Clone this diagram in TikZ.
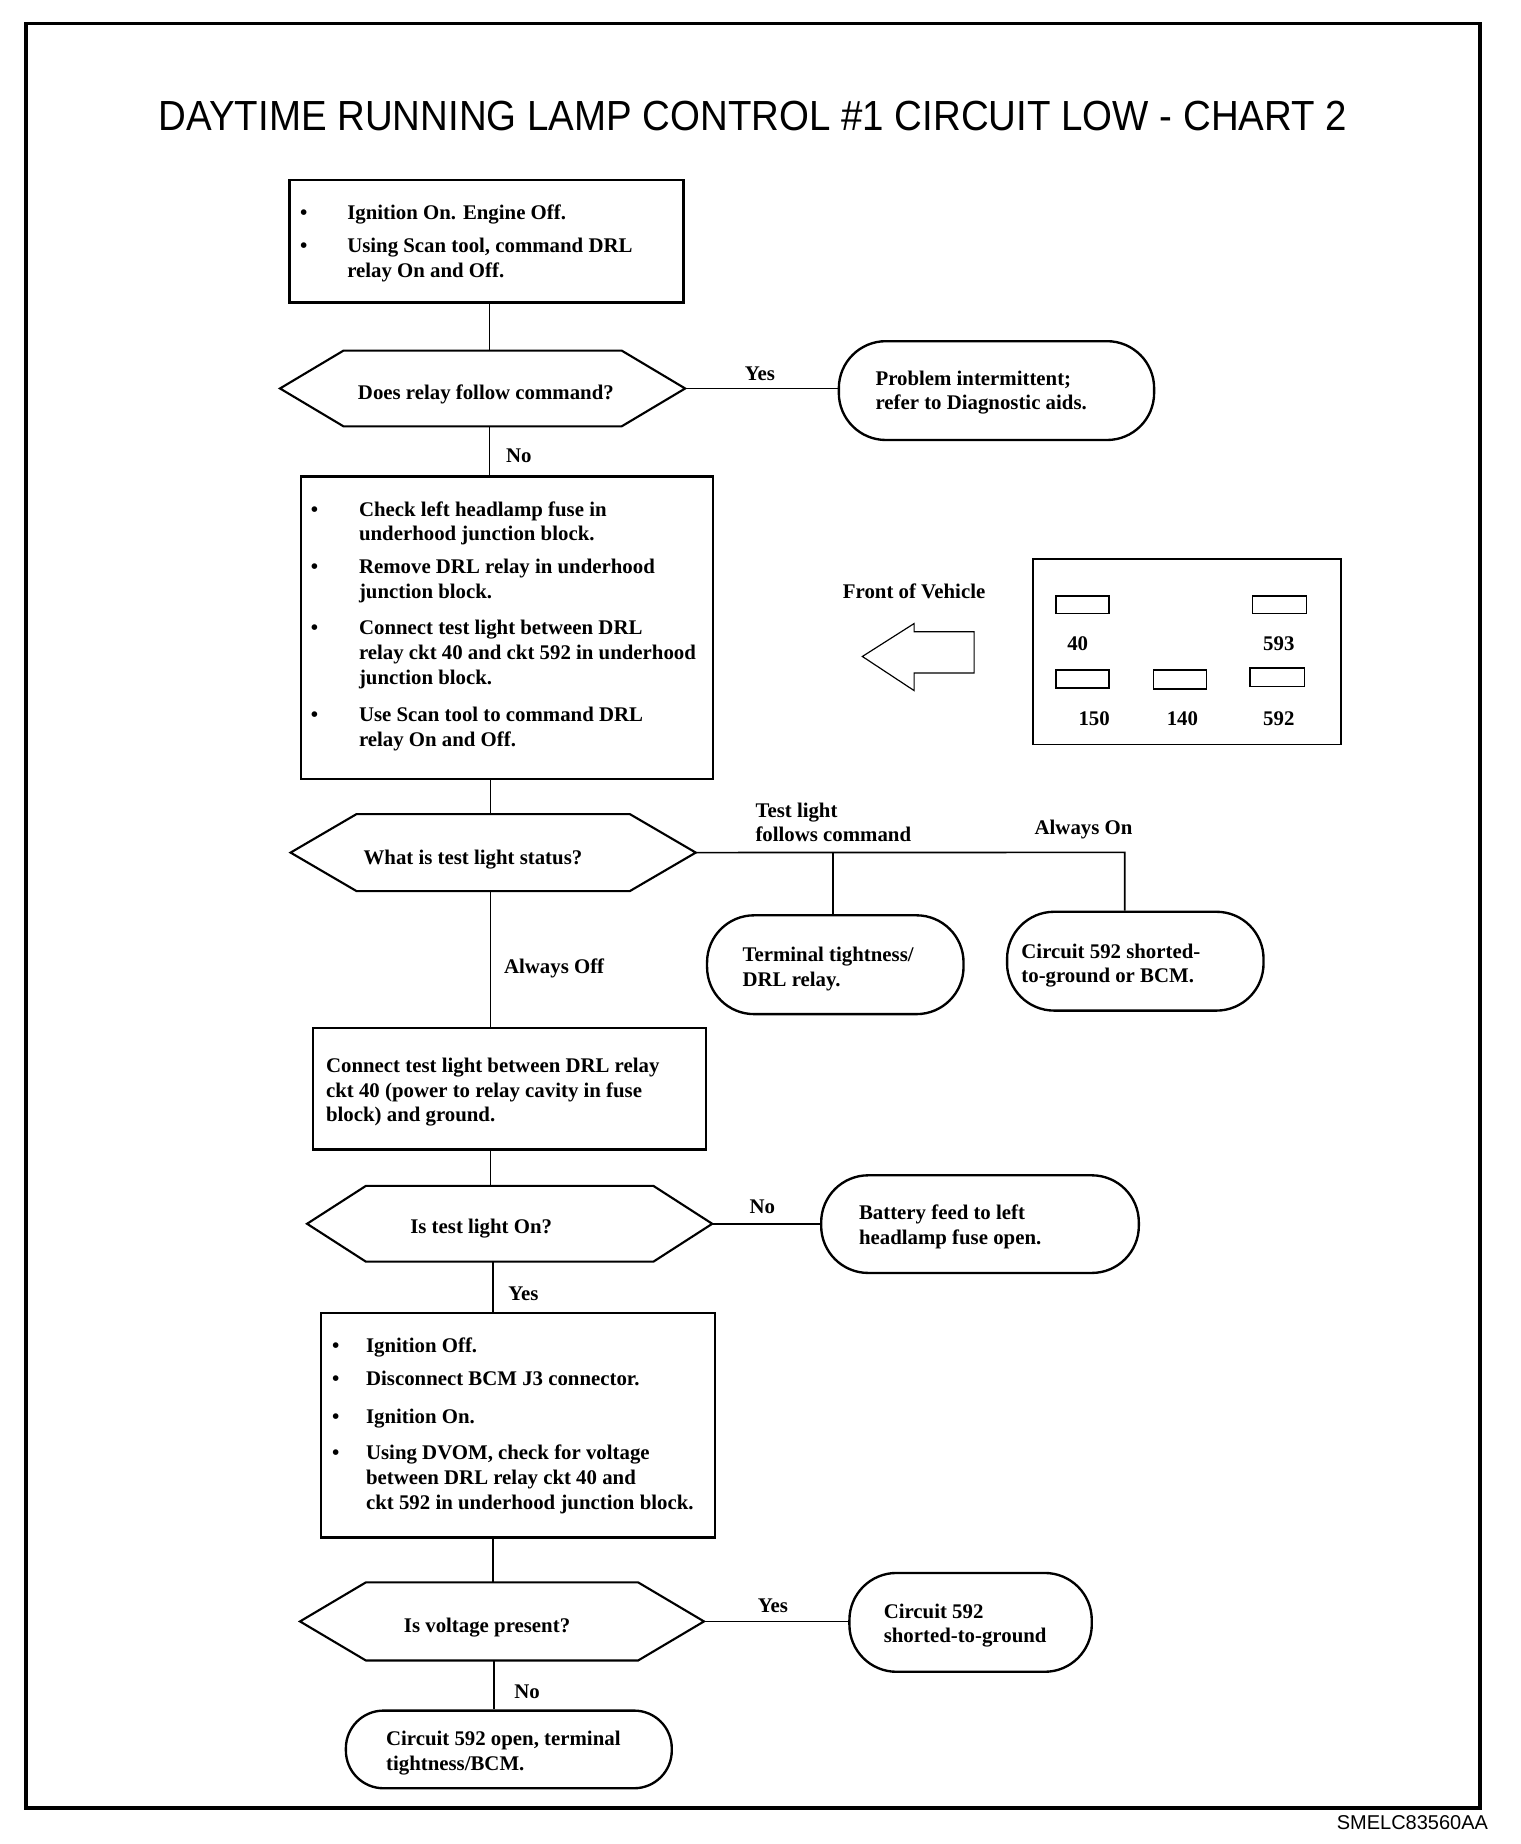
\documentclass[tikz,border=0pt]{standalone}
\usepackage{fontspec}
\usepackage{graphicx}
\setmainfont{Liberation Serif}
\newfontfamily\sansf{Liberation Sans}
\usetikzlibrary{calc}
\newcommand\fs{\bfseries\fontsize{17.7}{21}\selectfont}
\newcommand\bul[1]{\llap{\makebox[#1pt][l]{•}}}
\newcommand\hexpath[2]{\draw[hexline] (#1.west) -- ([xshift=#2pt]#1.north west) -- ([xshift=-#2pt]#1.north east) -- (#1.east) -- ([xshift=-#2pt]#1.south east) -- ([xshift=#2pt]#1.south west) -- cycle;}
\begin{document}
\begin{tikzpicture}[x=1pt,y=-1pt,
  box/.style={draw, line width=2pt, rectangle, anchor=north west, inner sep=0pt},
  term/.style={draw, line width=2pt, rectangle, anchor=north west, inner sep=0pt, rounded corners=40pt},
  hexa/.style={rectangle, anchor=north west, inner sep=0pt},
  hexline/.style={line width=1.8pt, line join=miter},
  txt/.style={anchor=north west, inner sep=0pt, align=left, font=\fs},
  lbl/.style={inner sep=0pt, font=\fs},
  small/.style={draw, line width=1.3pt, rectangle, anchor=north west, inner sep=0pt},
  flow/.style={line width=1.4pt}]

\useasboundingbox (0,0) rectangle (1292,1567.4);
\draw[line width=3pt] (22,20) rectangle (1258,1537);

\node[inner sep=0pt, anchor=base] (title) at (640,111)
  {\resizebox{1010pt}{25pt}{\sansf DAYTIME RUNNING LAMP CONTROL \#1 CIRCUIT LOW - CHART 2}};
\node[anchor=base east, inner sep=0pt, font=\sansf\fontsize{17}{17}\selectfont] (code) at (1265,1555) {SMELC83560AA};

% boxes
\node[box, minimum width=335pt, minimum height=104pt] (b1) at (245,152) {};
\node[box, minimum width=350pt, minimum height=257pt] (b2) at (255,404) {};
\node[box, minimum width=334pt, minimum height=103pt] (b3) at (265,873) {};
\node[box, minimum width=335pt, minimum height=191pt] (b4) at (272,1115) {};

% terminals
\node[term, minimum width=268pt, minimum height=84pt] (t1) at (712,289) {};
\node[term, minimum width=218pt, minimum height=84pt] (t2) at (600,777) {};
\node[term, minimum width=218pt, minimum height=84pt] (t3) at (855,774) {};
\node[term, minimum width=270pt, minimum height=83pt] (t4) at (697,998) {};
\node[term, minimum width=206pt, minimum height=84pt] (t5) at (721,1336) {};
\node[term, minimum width=277pt, minimum height=66pt, rounded corners=32pt] (t6) at (293,1453) {};

% hexagons
\node[hexa, minimum width=344pt, minimum height=64pt] (h1) at (238,298) {};
\node[hexa, minimum width=344pt, minimum height=65pt] (h2) at (247,692) {};
\node[hexa, minimum width=344pt, minimum height=64pt] (h3) at (261,1008) {};
\node[hexa, minimum width=343pt, minimum height=66pt] (h4) at (255,1345) {};
\hexpath{h1}{54}
\hexpath{h2}{56}
\hexpath{h3}{50}
\hexpath{h4}{56}

% texts
\node[txt] (b1txt) at (295,174) {\bul{40}Ignition On. Engine Off.\\[7pt]\bul{40}Using Scan tool, command DRL\\relay On and Off.};
\node[txt] (b2txt) at (305,426) {\bul{41}Check left headlamp fuse in\\underhood junction block.\\[7pt]\bul{41}Remove DRL relay in underhood\\junction block.\\[10pt]\bul{41}Connect test light between DRL\\relay ckt 40 and ckt 592 in underhood\\junction block.\\[11pt]\bul{41}Use Scan tool to command DRL\\relay On and Off.};
\node[txt] (b3txt) at (277,899) {Connect test light between DRL relay\\ckt 40 (power to relay cavity in fuse\\block) and ground.};
\node[txt] (b4txt) at (311,1137) {\bul{29}Ignition Off.\\[7pt]\bul{29}Disconnect BCM J3 connector.\\[11pt]\bul{29}Ignition On.\\[10pt]\bul{29}Using DVOM, check for voltage\\between DRL relay ckt 40 and\\ckt 592 in underhood junction block.};

\node[txt] (t1txt) at (744,315) {Problem intermittent;\\refer to Diagnostic aids.};
\node[txt] (t2txt) at (631,805) {Terminal tightness/\\DRL relay.};
\node[txt] (t3txt) at (868,802) {Circuit 592 shorted-\\to-ground or BCM.};
\node[txt] (t4txt) at (730,1024) {Battery feed to left\\headlamp fuse open.};
\node[txt] (t5txt) at (751,1363) {Circuit 592\\shorted-to-ground};
\node[txt] (t6txt) at (328,1471) {Circuit 592 open, terminal\\tightness/BCM.};

\node[lbl] (h1txt) at (413,335) {Does relay follow command?};
\node[lbl] (h2txt) at (402,731) {What is test light status?};
\node[lbl] (h3txt) at (409,1044) {Is test light On?};
\node[lbl] (h4txt) at (414,1383) {Is voltage present?};

% labels
\node[lbl] (yes1) at (646,318) {Yes};
\node[lbl] (no1) at (441,387) {No};
\node[txt] (tlf) at (642,682) {Test light\\follows command};
\node[lbl] (aon) at (921,705) {Always On};
\node[lbl] (aoff) at (471,823) {Always Off};
\node[lbl] (no2) at (648,1026) {No};
\node[lbl] (yes2) at (445,1100) {Yes};
\node[lbl] (yes3) at (657,1365) {Yes};
\node[lbl] (no3) at (448,1438) {No};

% connector panel
\node[lbl] (fov) at (777,503) {Front of Vehicle};
\draw[line width=1pt, line join=miter] (733,558) -- (777,530) -- (777,537) -- (828,537) -- (828,572) -- (777,572) -- (777,587) -- cycle;
\node[box, line width=1.6pt, minimum width=262pt, minimum height=158pt] (panel) at (877,474) {};
\node[small, minimum width=45pt, minimum height=15pt] (p40) at (897,506) {};
\node[small, minimum width=46pt, minimum height=15pt] (p593) at (1064,506) {};
\node[small, minimum width=45pt, minimum height=15pt] (p150) at (897,569) {};
\node[small, minimum width=45pt, minimum height=16pt] (p140) at (980,569) {};
\node[small, minimum width=46pt, minimum height=16pt] (p592) at (1062,567) {};
\node[lbl] (n40) at (916,547) {40};
\node[lbl] (n593) at (1087,547) {593};
\node[lbl] (n150) at (930,611) {150};
\node[lbl] (n140) at (1005,611) {140};
\node[lbl] (n592) at (1087,611) {592};

% connectors
\coordinate (s1) at (416,0);
\coordinate (s2) at (417,0);
\coordinate (s3) at (419,0);
\coordinate (s4) at (420,0);
\coordinate (jA) at (708,724.5);
\coordinate (jB) at (956,724.5);
\draw[flow] (b1.south -| s1) -- (h1.north -| s1);
\draw[flow] (h1.east) -- (h1.east -| t1.west);
\draw[flow] (h1.south -| s1) -- (b2.north -| s1);
\draw[flow] (b2.south -| s2) -- (h2.north -| s2);
\draw[flow] (h2.east) -- (jB) -- (t3.north -| jB);
\draw[flow] (jA) -- (t2.north -| jA);
\draw[flow] (h2.south -| s2) -- (b3.north -| s2);
\draw[flow] (b3.south -| s2) -- (h3.north -| s2);
\draw[flow] (h3.east) -- (h3.east -| t4.west);
\draw[flow] (h3.south -| s3) -- (b4.north -| s3);
\draw[flow] (b4.south -| s3) -- (h4.north -| s3);
\draw[flow] (h4.east) -- (h4.east -| t5.west);
\draw[flow] (h4.south -| s4) -- (t6.north -| s4);
\end{tikzpicture}
\end{document}
